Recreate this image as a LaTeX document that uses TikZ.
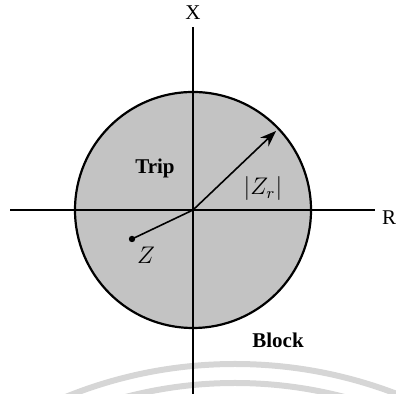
\documentclass[tikz,border=0pt]{standalone}
\usepackage{fontspec}
\setmainfont{Liberation Serif}
\usepackage{tikz}
\usetikzlibrary{positioning, arrows.meta}
\definecolor{ZoneGray}{RGB}{195, 195, 195}
\definecolor{MarkGray}{RGB}{214, 214, 214}

\tikzset{
  axisline/.style={line width=1pt, black},
  zoneline/.style={line width=1.1pt, black},
  lbl/.style={font=\fontsize{10.5}{12}\selectfont, inner sep=0pt},
  mathlbl/.style={font=\fontsize{12}{14}\selectfont, inner sep=0pt},
  watermark/.style={line width=3pt, MarkGray}
}

\begin{document}
\begin{tikzpicture}[x=0.5pt, y=0.5pt]
    \useasboundingbox (0,0) rectangle (396,394);

    % Trip zone
    \coordinate (O) at (193,184);
    \fill[ZoneGray] (O) circle (118);

    % faint arcs at the bottom
    \begin{scope}
      \clip (0,0) rectangle (396,394);
      \draw[watermark] (235,-420) circle (450);
      \draw[watermark] (235,-420) circle (431);
    \end{scope}

    % Axes
    \coordinate (xtop) at (193,367);
    \coordinate (xbot) at (193,0);
    \coordinate (rleft) at (10,184);
    \coordinate (rright) at (375,184);
    \draw[axisline] (xbot) -- (xtop);
    \draw[axisline] (rleft) -- (rright);
    \node[lbl] (xlbl) at (193,381) {X};
    \node[lbl] (rlbl) at (389,176) {R};

    \draw[zoneline] (O) circle (118);

    % Reach and impedance
    \coordinate (rtip) at (276,263);
    \draw[line width=0.8pt, -{Stealth[length=8pt, width=6pt]}] (O) -- (rtip);
    \coordinate (zpt) at (132,155);
    \draw[line width=0.8pt] (O) -- (zpt);
    \fill (zpt) circle (3.2);

    \node[lbl, font=\fontsize{10.5}{12}\selectfont\bfseries] (trip) at (155,226) {Trip};
    \node[mathlbl] (zr) at (263,205) {$|Z_r|$};
    \node[mathlbl] (z) at (146,139) {$Z$};
    \node[lbl, font=\fontsize{10.5}{12}\selectfont\bfseries] (block) at (278,54) {Block};
  \end{tikzpicture}
\end{document}
